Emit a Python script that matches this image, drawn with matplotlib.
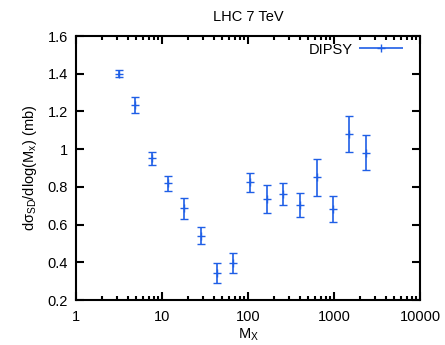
import matplotlib
matplotlib.use("Agg")
import matplotlib.pyplot as plt
from matplotlib.ticker import LogLocator, FixedLocator, NullLocator
from matplotlib.legend_handler import HandlerErrorbar

plt.rcParams['font.family'] = ['Liberation Sans', 'DejaVu Sans']
plt.rcParams['mathtext.fontset'] = 'custom'
plt.rcParams['mathtext.rm'] = 'Liberation Sans'
plt.rcParams['mathtext.it'] = 'Liberation Sans'

mx = [3.16, 4.86, 7.59, 11.6, 18.1, 28.4, 43.3, 67.5, 105, 165, 253, 403, 630, 966, 1507, 2355]
xsec = [1.400, 1.234, 0.951, 0.819, 0.686, 0.541, 0.342, 0.398, 0.824, 0.736, 0.762, 0.704, 0.850, 0.684, 1.080, 0.981]
err = [0.020, 0.044, 0.033, 0.040, 0.056, 0.046, 0.053, 0.053, 0.050, 0.072, 0.060, 0.066, 0.100, 0.070, 0.094, 0.093]
xticks = [1, 10, 100, 1000, 10000]
yticks = [0.2, 0.4, 0.6, 0.8, 1.0, 1.2, 1.4, 1.6]
ytick_labels = ['0.2', '0.4', '0.6', '0.8', '1', '1.2', '1.4', '1.6']

FS = 10.5
fig = plt.figure(figsize=(4.45, 3.45), dpi=100)
ax = fig.add_axes([76/445, 1-300/345, (420-76)/445, (300-36)/345])
color = '#1f5fe6'
style = dict(fmt='+', color=color, ecolor=color, elinewidth=1.2,
             capsize=3, capthick=1.2, markersize=6, markeredgewidth=1.0)
ax.errorbar(mx, xsec, yerr=err, **style)
# legend proxy: horizontal error bar (gnuplot style key sample)
proxy = ax.errorbar([], [], xerr=[], **style)
ax.set_xscale('log')
ax.set_xlim(1, 10000)
ax.set_ylim(0.2, 1.6)
ax.xaxis.set_major_locator(FixedLocator(xticks))
ax.set_xticklabels([str(t) for t in xticks])
ax.xaxis.set_minor_locator(LogLocator(base=10, subs=range(2, 10)))
ax.xaxis.set_minor_formatter(plt.NullFormatter())
ax.yaxis.set_major_locator(FixedLocator(yticks))
ax.set_yticklabels(ytick_labels)
ax.yaxis.set_minor_locator(NullLocator())
ax.tick_params(which='both', direction='in', top=True, right=True, labelsize=FS, width=1.5)
ax.tick_params(which='major', length=6, pad=6)
ax.tick_params(axis='x', which='major', pad=7)
ax.tick_params(which='minor', length=3)
for s in ax.spines.values():
    s.set_linewidth(1.5)
ax.set_xlabel(r'M$_{\mathregular{X}}$', fontsize=FS, labelpad=2)
ax.set_ylabel(r'dσ$_{\mathregular{SD}}$/dlog(M$_{\mathregular{x}}$) (mb)', fontsize=FS, labelpad=6)
ax.set_title('LHC 7 TeV', fontsize=FS, pad=11)
leg = ax.legend([proxy], ['DIPSY'], loc='upper right', bbox_to_anchor=(0.9506, 0.975),
                frameon=False, fontsize=FS, markerfirst=False,
                handlelength=3.0, borderaxespad=0, borderpad=0, handletextpad=0.45,
                handler_map={type(proxy): HandlerErrorbar(xerr_size=1.5)})
fig.savefig('out.png', dpi=100)
